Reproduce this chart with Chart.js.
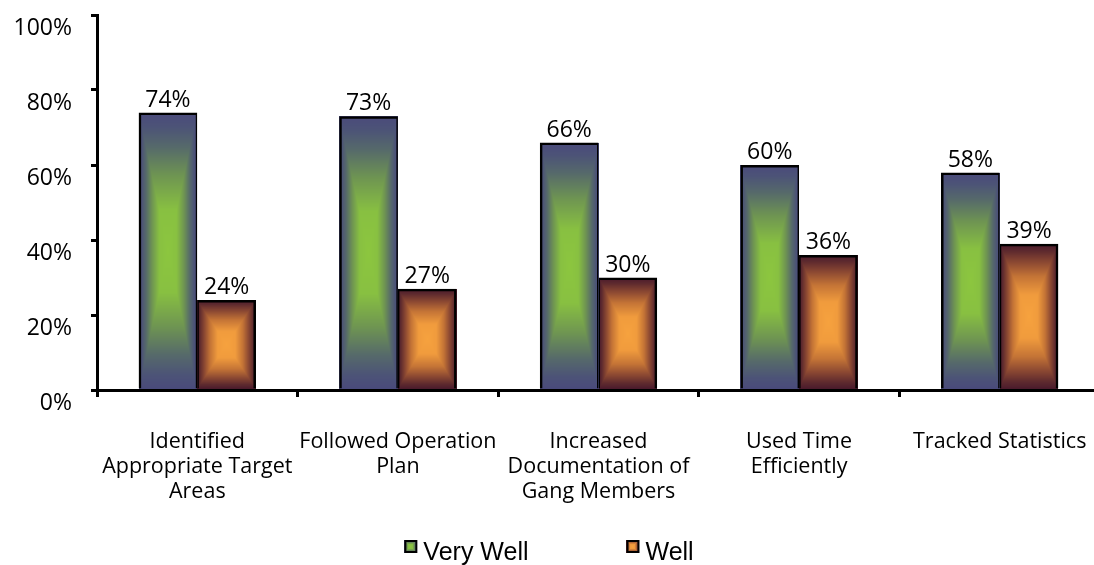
<!DOCTYPE html>
<html>
<head>
<meta charset="utf-8">
<script src="https://cdn.jsdelivr.net/npm/chart.js@4.4.1/dist/chart.umd.min.js"></script>
<style>
  html, body { margin: 0; padding: 0; background: #fff; overflow: hidden; }
  #wrap { width: 1094px; height: 565px; overflow: hidden; }
  canvas { display: block; }
</style>
</head>
<body>
<div id="wrap"><canvas id="chart" width="1100" height="565"></canvas></div>
<script>
// Survey results: how well each activity was carried out
const categories = [
  ['Identified', 'Appropriate Target', 'Areas'],
  ['Followed Operation', 'Plan'],
  ['Increased', 'Documentation of', 'Gang Members'],
  ['Used Time', 'Efficiently'],
  ['Tracked Statistics']
];
const seriesNames = ['Very Well', 'Well'];
const veryWell = [74, 73, 66, 60, 58];
const well = [24, 27, 30, 36, 39];
const yTickValues = [0, 20, 40, 60, 80, 100];

// Colour ramps for the rectangular "from centre" shading (t = 0 centre, t = 1 edge)
const shadeRamps = [
  [[0, '#8cc63f'], [0.3, '#88c041'], [0.55, '#6e9452'], [0.75, '#566a6a'], [0.9, '#4c5377'], [1, '#4a4a7b']],
  [[0, '#f6a23e'], [0.3, '#f09b3d'], [0.55, '#c47436'], [0.75, '#8b4832'], [0.9, '#5e2a2e'], [1, '#4a1a2c']]
];

function hexToRgb(h) {
  const n = parseInt(h.slice(1), 16);
  return [(n >> 16) & 255, (n >> 8) & 255, n & 255];
}
const rampRgb = shadeRamps.map(r => r.map(([t, c]) => [t, hexToRgb(c)]));

function rampColor(ramp, t) {
  if (t <= ramp[0][0]) return ramp[0][1];
  for (let i = 1; i < ramp.length; i++) {
    if (t <= ramp[i][0]) {
      const [t0, c0] = ramp[i - 1], [t1, c1] = ramp[i];
      const f = (t - t0) / (t1 - t0);
      return [0, 1, 2].map(k => c0[k] + (c1[k] - c0[k]) * f);
    }
  }
  return ramp[ramp.length - 1][1];
}

// Paint a rectangle whose colour runs from the centre out to every edge
function paintRectShade(ctx, L, T, W, H, ramp) {
  const x0 = Math.round(L), y0 = Math.round(T);
  const w = Math.max(1, Math.round(L + W) - x0), h = Math.max(1, Math.round(T + H) - y0);
  const off = document.createElement('canvas');
  off.width = w; off.height = h;
  const octx = off.getContext('2d');
  const img = octx.createImageData(w, h);
  const hw = w / 2, hh = h / 2;
  for (let y = 0; y < h; y++) {
    const dy = Math.abs(y + 0.5 - hh) / hh;
    for (let x = 0; x < w; x++) {
      const dx = Math.abs(x + 0.5 - hw) / hw;
      const c = rampColor(ramp, Math.max(dx, dy));
      const i = (y * w + x) * 4;
      img.data[i] = c[0]; img.data[i + 1] = c[1]; img.data[i + 2] = c[2]; img.data[i + 3] = 255;
    }
  }
  octx.putImageData(img, 0, 0);
  ctx.drawImage(off, x0, y0);
}

// Fills each bar's rectangle with its shading before the bar outlines are drawn
const barShading = {
  id: 'barShading',
  beforeDatasetsDraw(chart) {
    const ctx = chart.ctx;
    chart.data.datasets.forEach((ds, di) => {
      const meta = chart.getDatasetMeta(di);
      meta.data.forEach(el => {
        const p = el.getProps(['x', 'y', 'base', 'width'], true);
        const top = Math.min(p.y, p.base), bottom = Math.max(p.y, p.base);
        paintRectShade(ctx, p.x - p.width / 2, top, p.width, bottom - top, rampRgb[di]);
      });
    });
  }
};

// Percentage label above each bar
const valueLabels = {
  id: 'valueLabels',
  afterDatasetsDraw(chart) {
    const ctx = chart.ctx;
    ctx.save();
    ctx.font = '23px "Open Sans"';
    ctx.fillStyle = '#000';
    ctx.textAlign = 'center';
    ctx.textBaseline = 'alphabetic';
    chart.data.datasets.forEach((ds, di) => {
      const meta = chart.getDatasetMeta(di);
      meta.data.forEach((el, i) => {
        const p = el.getProps(['x', 'y'], true);
        ctx.fillText(ds.data[i] + '%', p.x, p.y - 6);
      });
    });
    ctx.restore();
  }
};

// Legend row under the category labels
const bottomLegend = {
  id: 'bottomLegend',
  afterDraw(chart) {
    const ctx = chart.ctx;
    ctx.save();
    ctx.font = '25px "Liberation Sans"';
    const box = 13, gap = 6, itemGap = 98;
    const widths = chart.data.datasets.map(ds => box + gap + ctx.measureText(ds.label).width);
    const total = widths.reduce((a, b) => a + b, 0) + itemGap * (widths.length - 1);
    let x = 549 - total / 2;
    const boxTop = chart.height - 25;
    chart.data.datasets.forEach((ds, di) => {
      paintRectShade(ctx, x, boxTop, box, box, rampRgb[di]);
      ctx.strokeStyle = '#000';
      ctx.lineWidth = 2;
      ctx.strokeRect(x + 1, boxTop + 1, box - 2, box - 2);
      ctx.fillStyle = '#000';
      ctx.textBaseline = 'alphabetic';
      ctx.textAlign = 'left';
      ctx.fillText(ds.label, x + box + gap, boxTop + 20);
      x += widths[di] + itemGap;
    });
    ctx.restore();
  }
};

new Chart(document.getElementById('chart'), {
  type: 'bar',
  data: {
    labels: categories,
    datasets: [
      {
        label: seriesNames[0],
        data: veryWell,
        backgroundColor: 'rgba(0,0,0,0)',
        borderColor: '#000',
        borderWidth: { top: 2.5, left: 2.5, right: 1.5, bottom: 0 },
        borderSkipped: false
      },
      {
        label: seriesNames[1],
        data: well,
        backgroundColor: 'rgba(0,0,0,0)',
        borderColor: '#000',
        borderWidth: { top: 2.5, left: 1.5, right: 2.5, bottom: 0 },
        borderSkipped: false
      }
    ]
  },
  options: {
    responsive: false,
    animation: false,
    devicePixelRatio: 1,
    categoryPercentage: 0.585,
    barPercentage: 1,
    layout: { padding: { top: 15, left: 0, right: 0, bottom: 0 } },
    plugins: {
      legend: { display: false },
      tooltip: { enabled: false }
    },
    scales: {
      x: {
        grid: {
          display: true,
          drawOnChartArea: false,
          drawTicks: true,
          tickLength: 7,
          color: '#000',
          lineWidth: 3,
          offset: true
        },
        border: { display: true, color: '#000', width: 3 },
        ticks: {
          color: '#000',
          font: { family: '"Open Sans"', size: 21.5, lineHeight: 1.17 },
          padding: 32,
          maxRotation: 0,
          autoSkip: false
        },
        afterFit(scale) {
          scale.height = 175;
          scale.paddingLeft = 0;
          scale.paddingRight = 0;
        }
      },
      y: {
        min: 0,
        max: 100,
        afterBuildTicks(scale) { scale.ticks = yTickValues.map(v => ({ value: v })); },
        grid: {
          display: true,
          drawOnChartArea: false,
          drawTicks: true,
          tickLength: 6,
          color: '#000',
          lineWidth: 3
        },
        border: { display: true, color: '#000', width: 3 },
        ticks: {
          color: '#000',
          font: { family: '"Open Sans"', size: 23 },
          padding: 19,
          labelOffset: 13,
          callback: v => v + '%'
        },
        afterFit(scale) {
          scale.width = 97;
          scale.paddingTop = 0;
          scale.paddingBottom = 0;
        }
      }
    }
  },
  plugins: [barShading, valueLabels, bottomLegend]
});
</script>
</body>
</html>
